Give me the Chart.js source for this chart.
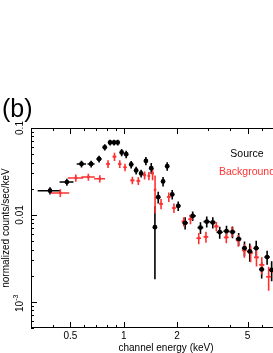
<!DOCTYPE html>
<html>
<head>
<meta charset="utf-8">
<script src="https://cdn.jsdelivr.net/npm/chart.js@4/dist/chart.umd.min.js"></script>
<style>
  html, body { margin: 0; padding: 0; background: #fff; overflow: hidden; width: 273px; height: 353px; }
  #wrap { position: absolute; left: 0; top: 0; width: 330px; height: 353px; }
</style>
</head>
<body>
<div id="wrap"><canvas id="chart" width="330" height="353"></canvas></div>
<script>
// source spectrum (black)
const srcEnergy = [0.384, 0.478, 0.578, 0.655, 0.726, 0.782, 0.838, 0.882, 0.925, 0.974, 1.033, 1.102, 1.175, 1.254, 1.334, 1.43, 1.50, 1.566, 1.667, 1.759, 1.878, 2.03, 2.22, 2.45, 2.71, 2.94, 3.18, 3.48, 3.80, 4.11, 4.45, 4.80, 5.14, 5.59, 6.0, 6.44, 6.83, 7.4, 8.0];
const srcRate = [0.0190, 0.0239, 0.0386, 0.0386, 0.0440, 0.060, 0.0681, 0.0681, 0.0681, 0.0523, 0.0499, 0.0380, 0.0325, 0.0300, 0.0418, 0.0345, 0.00722, 0.0160, 0.0243, 0.0363, 0.0172, 0.0127, 0.00809, 0.00974, 0.00715, 0.00837, 0.0082, 0.00633, 0.0065, 0.00638, 0.0053, 0.00414, 0.0038, 0.00414, 0.00236, 0.00327, 0.00233, 0.0028, 0.0021];
const srcEnergyErr = [0.057, 0.043, 0.035, 0.03, 0.025, 0.02, 0.018, 0.018, 0.018, 0.02, 0.025, 0.03, 0.03, 0.03, 0.03, 0.03, 0.01, 0.04, 0.04, 0.045, 0.05, 0.06, 0.08, 0.1, 0.1, 0.12, 0.12, 0.14, 0.15, 0.15, 0.16, 0.16, 0.18, 0.2, 0.2, 0.22, 0.22, 0.25, 0.3];
const srcRateErr = [0.0018, 0.0022, 0.0035, 0.0035, 0.004, 0.005, 0.005, 0.005, 0.005, 0.005, 0.005, 0.0038, 0.0033, 0.003, 0.0045, 0.005, 0.0054, 0.0025, 0.003, 0.004, 0.0022, 0.0016, 0.0013, 0.0012, 0.0011, 0.0012, 0.0012, 0.001, 0.001, 0.001, 0.0009, 0.0008, 0.0009, 0.0009, 0.0005, 0.0006, 0.0006, 0.0006, 0.0005];

// background spectrum (red)
const bkgEnergy = [0.439, 0.537, 0.632, 0.733, 0.816, 0.887, 0.950, 1.017, 1.119, 1.209, 1.312, 1.387, 1.455, 1.503, 1.624, 1.796, 1.92, 2.18, 2.38, 2.65, 2.91, 3.33, 3.79, 4.08, 4.43, 4.79, 5.2, 5.61, 6.01, 6.57, 7.1, 7.7];
const bkgRate = [0.0179, 0.0266, 0.0273, 0.0261, 0.0386, 0.0468, 0.0386, 0.0353, 0.0250, 0.0246, 0.0286, 0.0281, 0.0300, 0.0194, 0.0134, 0.0161, 0.0120, 0.00837, 0.00892, 0.0054, 0.00559, 0.00738, 0.00551, 0.00643, 0.00509, 0.00391, 0.00366, 0.00325, 0.00266, 0.00194, 0.0022, 0.0016];
const bkgEnergyErr = [0.054, 0.053, 0.055, 0.052, 0.022, 0.022, 0.022, 0.022, 0.03, 0.03, 0.025, 0.02, 0.02, 0.01, 0.04, 0.045, 0.05, 0.06, 0.07, 0.08, 0.09, 0.1, 0.12, 0.12, 0.14, 0.15, 0.16, 0.18, 0.2, 0.22, 0.25, 0.3];
const bkgRateErr = [0.0018, 0.0025, 0.0025, 0.0025, 0.004, 0.005, 0.004, 0.0035, 0.0025, 0.0025, 0.003, 0.003, 0.005, 0.009, 0.0018, 0.002, 0.0015, 0.001, 0.0011, 0.0008, 0.0008, 0.0009, 0.0008, 0.0009, 0.0008, 0.0007, 0.0008, 0.0007, 0.0006, 0.0006, 0.0006, 0.0005];

const seriesNames = ['Source', 'Background'];
const xTickLabels = [0.5, 1, 2, 5];
const yTickLabels = [0.1, 0.01, 0.001];

const RED = 'rgb(255,50,50)';
const FONT = '"Liberation Sans", Arial, sans-serif';

function points(xs, ys, xe, ye) {
  return xs.map((x, i) => ({ x: x, y: ys[i], xe: xe[i], ye: ye[i] }));
}

// log ticks 1..9 per decade
function logTicks(scale) {
  const ticks = [];
  for (let e = Math.floor(Math.log10(scale.min)); e <= Math.ceil(Math.log10(scale.max)); e++) {
    for (let m = 1; m <= 9; m++) {
      const v = +(m * Math.pow(10, e)).toPrecision(6);
      if (v >= scale.min * 0.999 && v <= scale.max * 1.001) ticks.push({ value: v });
    }
  }
  scale.ticks = ticks;
}

const axisPlugin = {
  id: 'axisPlugin',
  beforeDatasetsDraw(chart) {
    const { ctx, chartArea: a, scales: { x, y } } = chart;
    ctx.save();
    ctx.beginPath();
    ctx.rect(a.left, a.top, a.right - a.left, a.bottom - a.top);
    ctx.clip();
    chart.data.datasets.forEach(ds => {
      ctx.strokeStyle = ds.borderColor;
      ctx.lineWidth = 1.6;
      ctx.beginPath();
      ds.data.forEach(p => {
        const px = x.getPixelForValue(p.x), py = y.getPixelForValue(p.y);
        ctx.moveTo(x.getPixelForValue(p.x - p.xe), py);
        ctx.lineTo(x.getPixelForValue(p.x + p.xe), py);
        ctx.moveTo(px, y.getPixelForValue(Math.max(p.y - p.ye, 1e-5)));
        ctx.lineTo(px, y.getPixelForValue(p.y + p.ye));
      });
      ctx.stroke();
    });
    ctx.restore();
  },
  afterDraw(chart) {
    const { ctx, chartArea: a, scales: { x, y } } = chart;
    ctx.save();
    ctx.strokeStyle = '#000';
    ctx.lineWidth = 1;
    ctx.strokeRect(a.left + 0.5, a.top + 0.5, a.right - a.left - 1, a.bottom - a.top - 1);

    // inward ticks on all sides
    ctx.beginPath();
    x.ticks.forEach(t => {
      const px = Math.round(x.getPixelForValue(t.value)) + 0.5;
      const len = xTickLabels.includes(t.value) ? 6 : 3;
      ctx.moveTo(px, a.bottom); ctx.lineTo(px, a.bottom - len);
      ctx.moveTo(px, a.top); ctx.lineTo(px, a.top + len);
    });
    y.ticks.forEach(t => {
      const py = Math.round(y.getPixelForValue(t.value)) + 0.5;
      const len = yTickLabels.includes(t.value) ? 6 : 3;
      ctx.moveTo(a.left, py); ctx.lineTo(a.left + len, py);
      ctx.moveTo(a.right, py); ctx.lineTo(a.right - len, py);
    });
    ctx.stroke();

    // tick labels
    ctx.fillStyle = '#000';
    ctx.font = '10px ' + FONT;
    ctx.textAlign = 'center';
    ctx.textBaseline = 'middle';
    xTickLabels.forEach(v => ctx.fillText(String(v), x.getPixelForValue(v), a.bottom + 8));
    yTickLabels.forEach(v => {
      const py = y.getPixelForValue(v);
      ctx.save();
      ctx.translate(a.left - 11, py);
      ctx.rotate(-Math.PI / 2);
      if (v === 0.001) {
        ctx.font = '10px ' + FONT;
        ctx.textAlign = 'right';
        ctx.fillText('10', 1, 0);
        ctx.font = '7px ' + FONT;
        ctx.textAlign = 'left';
        ctx.fillText('-3', 1, -4);
      } else {
        ctx.fillText(String(v), 0, 0);
      }
      ctx.restore();
    });

    // axis titles
    ctx.font = '10px ' + FONT;
    ctx.fillText('channel energy (keV)', (a.left + a.right) / 2, a.bottom + 20);
    ctx.save();
    ctx.translate(6, (a.top + a.bottom) / 2);
    ctx.rotate(-Math.PI / 2);
    ctx.fillText('normalized counts/sec/keV', 0, 0);
    ctx.restore();

    // legend text
    ctx.font = '10.5px ' + FONT;
    ctx.fillStyle = '#000';
    ctx.fillText(seriesNames[0], a.right - 54, a.top + 26);
    ctx.fillStyle = RED;
    ctx.fillText(seriesNames[1], a.right - 54, a.top + 44);

    // panel label
    ctx.fillStyle = '#000';
    ctx.font = '25px ' + FONT;
    ctx.textAlign = 'left';
    ctx.fillText('(b)', 2, 110);
    ctx.restore();
  }
};

new Chart(document.getElementById('chart'), {
  type: 'scatter',
  data: {
    datasets: [
      {
        label: seriesNames[0],
        data: points(srcEnergy, srcRate, srcEnergyErr, srcRateErr),
        borderColor: '#000',
        backgroundColor: '#000',
        pointRadius: 2.4,
        pointBorderWidth: 0
      },
      {
        label: seriesNames[1],
        data: points(bkgEnergy, bkgRate, bkgEnergyErr, bkgRateErr),
        borderColor: RED,
        backgroundColor: RED,
        pointRadius: 1.4,
        pointBorderWidth: 0
      }
    ]
  },
  options: {
    responsive: false,
    animation: false,
    devicePixelRatio: 1,
    layout: { padding: { left: 0, right: 29, top: 128, bottom: 0 } },
    plugins: { legend: { display: false }, tooltip: { enabled: false } },
    scales: {
      x: {
        type: 'logarithmic', min: 0.3, max: 10,
        grid: { display: false, drawTicks: false }, border: { display: false },
        ticks: { display: false },
        afterBuildTicks: logTicks,
        afterFit: s => { s.height = 25; }
      },
      y: {
        type: 'logarithmic', min: 0.0005, max: 0.1,
        grid: { display: false, drawTicks: false }, border: { display: false },
        ticks: { display: false },
        afterBuildTicks: logTicks,
        afterFit: s => { s.width = 31; }
      }
    }
  },
  plugins: [axisPlugin]
});
</script>
</body>
</html>
